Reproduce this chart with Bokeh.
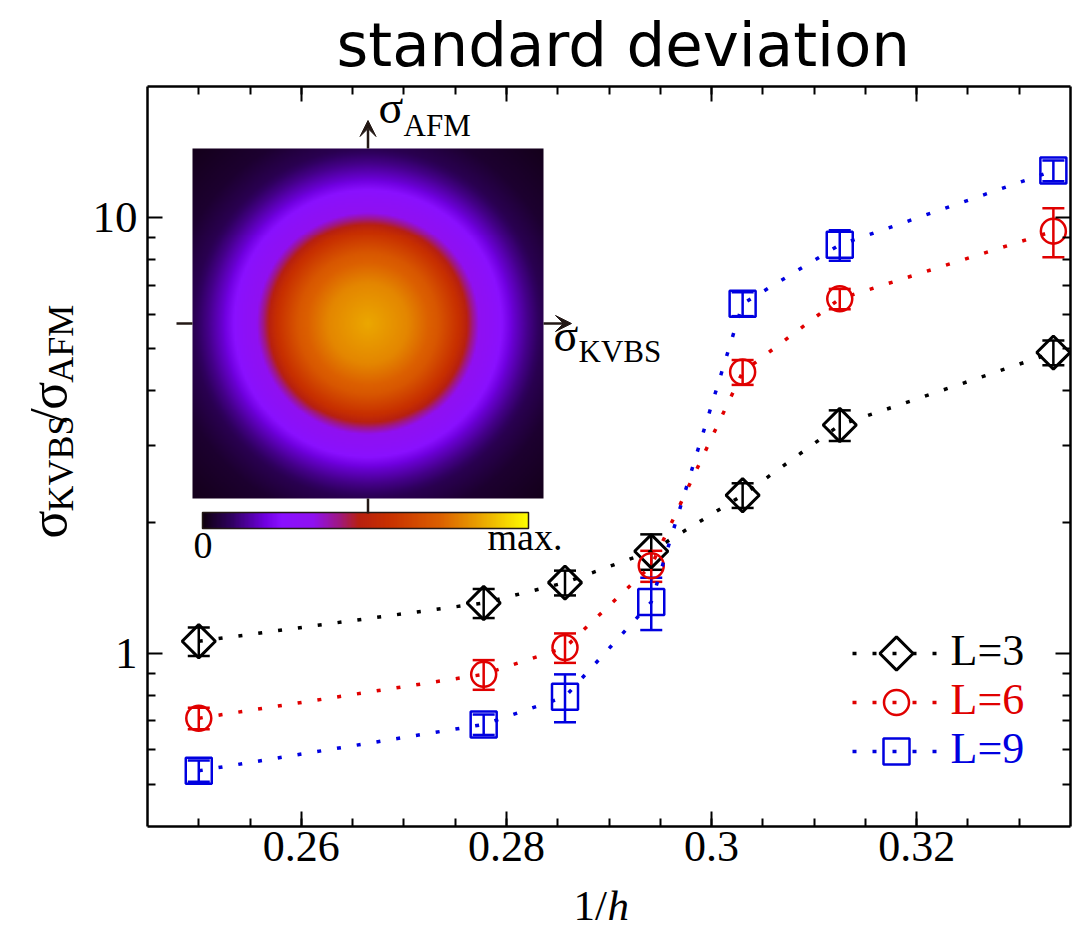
import numpy as np
from bokeh.plotting import figure
from bokeh.layouts import row, column
from bokeh.models import (ColumnDataSource, Whisker, TeeHead, Label, Arrow, VeeHead,
                          LinearAxis, LogAxis, FixedTicker, Range1d)
from bokeh.core.properties import value
from bokeh.embed import file_html
from bokeh.resources import INLINE

# ---------------- data ----------------
inv_h = [0.25, 0.27778, 0.28571, 0.29412, 0.30303, 0.3125, 0.33333]
sigma_L3 = [1.065, 1.304, 1.452, 1.714, 2.305, 3.34, 4.90]
err_L3 = [0.08, 0.10, 0.095, 0.16, 0.15, 0.27, 0.32]
sigma_L6 = [0.709, 0.894, 1.03, 1.588, 4.42, 6.51, 9.31]
err_L6 = [0.04, 0.07, 0.08, 0.13, 0.29, 0.35, 1.2]
sigma_L9 = [0.537, 0.686, 0.794, 1.31, 6.34, 8.66, 12.82]
err_L9 = [0.03, 0.037, 0.10, 0.18, 0.40, 0.70, 0.70]
series_labels = ["L=3", "L=6", "L=9"]

x_ticks = [0.26, 0.28, 0.30, 0.32]
x_tick_labels = ["0.26", "0.28", "0.3", "0.32"]
x_minor = [0.25, 0.255, 0.26, 0.265, 0.27, 0.275, 0.28, 0.285, 0.29, 0.295,
           0.30, 0.305, 0.31, 0.315, 0.32, 0.325, 0.33]
y_ticks = [1, 10]
y_tick_labels = ["1", "10"]
y_minor = [0.5, 0.6, 0.7, 0.8, 0.9, 2, 3, 4, 5, 6, 7, 8, 9]
colorbar_labels = ["0", "max."]
title_text = "standard deviation"

# inset histogram: radial intensity profile (radius in px)
inset_r_px = [0, 40, 70, 92, 102, 112, 120, 130, 145, 160, 175, 200, 250]
inset_level = [0.86, 0.80, 0.70, 0.56, 0.45, 0.33, 0.30, 0.26, 0.18, 0.12, 0.07, 0.035, 0.01]
cmap_pos = [0, 0.087, 0.19, 0.24, 0.34, 0.42, 0.48, 0.57, 0.73, 0.85, 1.0]
cmap_rgb = [(16, 0, 16), (48, 0, 96), (112, 0, 224), (138, 16, 255), (144, 16, 240),
            (160, 24, 128), (184, 32, 16), (200, 48, 0), (220, 96, 0), (234, 162, 0),
            (255, 255, 0)]

# ---------------- layout helpers (absolute page pixels) ----------------
X0, X1 = 0.245, 0.335
Y0, Y1 = 0.4, 20.0
FL, FR, FT, FB = 147, 1070, 86, 826
W, H = 1086, 930
LW = 80          # width of the strip that holds the y title
TH = 82          # height of the strip that holds the title
PB = 881         # page y where the main figure ends
MH = PB - TH     # height of the main figure
BH = H - PB      # height of the strip that holds the x title
MID = 0.3375     # (ascent - descent) / 2 of Liberation Serif, in em


def px(sx):
    return X0 + (sx - FL) / (FR - FL) * (X1 - X0)


def py(sy):
    return 10 ** (np.log10(Y0) + (FB - sy) / (FB - FT) * (np.log10(Y1) - np.log10(Y0)))


SERIF = "Liberation Serif"
colors = ["#000000", "#e00000", "#0000e0"]

p = figure(width=W - LW, height=MH, x_range=Range1d(X0, X1), y_range=Range1d(Y0, Y1),
           y_axis_type="log", output_backend="svg", toolbar_location=None,
           min_border_left=FL - LW, min_border_right=W - FR, min_border_top=FT - TH,
           min_border_bottom=PB - FB)
p.title.visible = False
p.outline_line_color = None
p.xgrid.visible = False
p.ygrid.visible = False
p.background_fill_color = "white"
p.border_fill_color = "white"

# axes
bottom_ax = p.below[0]
left_ax = p.left[0]
top_ax = LinearAxis()
right_ax = LogAxis()
p.add_layout(top_ax, "above")
p.add_layout(right_ax, "right")

for ax in [bottom_ax, top_ax]:
    ax.ticker = FixedTicker(ticks=x_ticks, minor_ticks=x_minor)
for ax in [left_ax, right_ax]:
    ax.ticker = FixedTicker(ticks=y_ticks, minor_ticks=y_minor)
for ax in [bottom_ax, top_ax, left_ax, right_ax]:
    ax.major_tick_in = 15
    ax.major_tick_out = 0
    ax.minor_tick_in = 8
    ax.minor_tick_out = 0
    ax.axis_line_width = 2.5
    ax.major_tick_line_width = 2
    ax.minor_tick_line_width = 2
    ax.axis_line_color = "black"
    ax.major_tick_line_color = "black"
    ax.minor_tick_line_color = "black"
    ax.major_label_text_font = SERIF
    ax.major_label_text_font_size = "45px"
    ax.major_label_text_color = "black"
bottom_ax.major_label_text_font_size = "44px"
bottom_ax.major_label_overrides = {t: l for t, l in zip(x_ticks, x_tick_labels)}
left_ax.major_label_overrides = {t: l for t, l in zip(y_ticks, y_tick_labels)}
bottom_ax.major_label_standoff = 5
left_ax.major_label_standoff = 10
for ax, ticks in [(top_ax, x_ticks), (right_ax, y_ticks)]:
    ax.major_label_overrides = {t: "" for t in ticks}
    ax.major_label_text_font_size = "0px"
    ax.major_label_standoff = 0

# ---------------- inset image ----------------
img_l, img_r, img_t, img_b = 192, 543, 148, 498
N = 176
cx = (img_l + img_r) / 2.0
cy = (img_t + img_b) / 2.0
xs_px = img_l + (np.arange(N) + 0.5) * (img_r - img_l) / N
ys_px = img_b - (np.arange(N) + 0.5) * (img_b - img_t) / N
XX, YY = np.meshgrid(xs_px, ys_px)
R = np.sqrt((XX - cx) ** 2 + (YY - cy) ** 2)
lev = np.interp(R, inset_r_px, inset_level)
crgb = np.array(cmap_rgb, dtype=float)


def colorize(t):
    out = np.empty(t.shape, dtype=np.uint32)
    v = out.view(dtype=np.uint8).reshape(t.shape + (4,))
    for c in range(3):
        v[..., c] = np.interp(t, cmap_pos, crgb[:, c]).astype(np.uint8)
    v[..., 3] = 255
    return out


p.image_rgba(image=[colorize(lev)], x=px(img_l), y=py(img_b),
             dw=px(img_r) - px(img_l), dh=py(img_t) - py(img_b))

# colorbar
cb_l, cb_r, cb_t, cb_b = 202, 528, 512, 528
grad = np.linspace(0, 1, 256)[None, :]
p.image_rgba(image=[colorize(grad)], x=px(cb_l), y=py(cb_b),
             dw=px(cb_r) - px(cb_l), dh=py(cb_t) - py(cb_b))
p.quad(left=[px(cb_l)], right=[px(cb_r)], top=[py(cb_t)], bottom=[py(cb_b)],
       fill_color=None, line_color="#231815", line_width=1.5)
p.add_layout(Label(x=px(193), y=py(557), text=colorbar_labels[0], text_font=SERIF,
                   text_font_size="38px", text_color="black"))
p.add_layout(Label(x=px(487), y=py(557), text=colorbar_labels[1], text_font=SERIF,
                   text_font_size="38px", text_color="black"))

# axes arrows of inset
ac = "#231815"
p.add_layout(Arrow(x_start=px(cx), y_start=py(img_t), x_end=px(cx), y_end=py(img_t - 28),
                   line_color=ac, line_width=2.5,
                   end=VeeHead(size=16, fill_color=ac, line_color=ac, line_width=1)))
p.add_layout(Arrow(x_start=px(img_r), y_start=py(cy), x_end=px(img_r + 28), y_end=py(cy),
                   line_color=ac, line_width=2.5,
                   end=VeeHead(size=16, fill_color=ac, line_color=ac, line_width=1)))
p.segment(x0=[px(176), px(cx)], y0=[py(cy), py(img_b)], x1=[px(img_l), px(cx)],
          y1=[py(cy), py(img_b + 15)], line_color=ac, line_width=2.5)

for t, sx, sy, fs in [("σ", 378, 132, "46px"), ("AFM", 403, 142, "31px"),
                      ("σ", 553, 360, "46px"), ("KVBS", 578, 368, "31px")]:
    p.add_layout(Label(x=px(sx), y=py(sy), text=t, text_font=SERIF, text_font_size=fs,
                       text_color="black"))

# ---------------- data series ----------------
series = [(sigma_L3, err_L3), (sigma_L6, err_L6), (sigma_L9, err_L9)]
marker_specs = [dict(marker="square", size=23.5, angle=np.pi / 4, line_width=3),
                dict(marker="circle", size=25, angle=0.0, line_width=2.5),
                dict(marker="square", size=26, angle=0.0, line_width=2.5)]
DASH = "4 16"
for (vals, errs), col, ms in zip(series, colors, marker_specs):
    src = ColumnDataSource(dict(x=inv_h, y=vals,
                                up=[v + e for v, e in zip(vals, errs)],
                                lo=[v - e for v, e in zip(vals, errs)]))
    p.line("x", "y", source=src, line_color=col, line_width=3.5, line_dash=DASH)
    p.add_layout(Whisker(source=src, base="x", upper="up", lower="lo", dimension="height",
                         line_color=col, line_width=2.5,
                         upper_head=TeeHead(size=22, line_color=col, line_width=2.5),
                         lower_head=TeeHead(size=22, line_color=col, line_width=2.5)))
    p.scatter("x", "y", source=src, marker=ms["marker"], size=ms["size"], angle=ms["angle"],
              fill_color=None, line_color=col, line_width=ms["line_width"])

# ---------------- legend (drawn by hand) ----------------
rows_y = [653, 702, 751]
for ry, col, ms, lab in zip(rows_y, colors, marker_specs, series_labels):
    p.line(x=[px(852), px(938)], y=[py(ry), py(ry)], line_color=col, line_width=3.5,
           line_dash=DASH)
    p.scatter(x=[px(896)], y=[py(ry)], marker=ms["marker"], size=ms["size"],
              angle=ms["angle"], fill_color=None, line_color=col, line_width=ms["line_width"])
    p.add_layout(Label(x=px(950), y=py(ry + 21), text=lab, text_font=SERIF,
                       text_font_size="44px", text_color=col))


# ---------------- title and axis titles (separate strips) ----------------
def strip(w, h, x0, y0):
    """A bare figure whose data coordinates are page pixels (x, -y)."""
    f = figure(width=w, height=h, x_range=Range1d(x0, x0 + w), y_range=Range1d(-(y0 + h), -y0),
               output_backend="svg", toolbar_location=None, x_axis_location=None,
               y_axis_location=None, min_border=0)
    f.min_border_left = f.min_border_right = f.min_border_top = f.min_border_bottom = 0
    f.title.visible = False
    f.outline_line_color = None
    f.xgrid.visible = False
    f.ygrid.visible = False
    f.background_fill_color = "white"
    f.border_fill_color = "white"
    return f


# title strip
tf = strip(W, TH, 0, 0)
tf.text(x=[336], y=[-(65 - 0.346 * 61)], text=[title_text], text_font=value("DejaVu Sans"),
        text_font_size="61px", text_color="black", text_align="left", text_baseline="middle")

# y title strip (text read upward; anchors are glyph-box centres across the line)
lf = strip(LW, MH, 0, TH)
ylab_text = ["σ", "KVBS", "/", "σ", "AFM"]
ylab_start = [570, 541, 445, 431, 402]
ylab_base = [66, 73, 66, 66, 73]
ylab_fs = [52, 36, 52, 52, 36]
lf.text(x=[b - MID * f for b, f in zip(ylab_base, ylab_fs)], y=[-v for v in ylab_start],
        text=ylab_text, text_font=value(SERIF), text_font_size=[f"{f}px" for f in ylab_fs],
        text_color="black", angle=np.pi / 2, text_align="left", text_baseline="middle")

# x title strip
bf = strip(W, BH, 0, PB)
XB, XFS = 920, 43
bf.text(x=[573], y=[-(XB - MID * XFS)], text=["1/"], text_font=value(SERIF),
        text_font_size=f"{XFS}px", text_color="black", text_align="left",
        text_baseline="middle")
bf.text(x=[607], y=[-(XB - MID * XFS)], text=["h"], text_font=value(SERIF),
        text_font_size=f"{XFS}px", text_font_style="italic", text_color="black",
        text_align="left", text_baseline="middle")

layout = column(tf, row(lf, p), bf)
open("out.html", "w").write(file_html(layout, INLINE))
